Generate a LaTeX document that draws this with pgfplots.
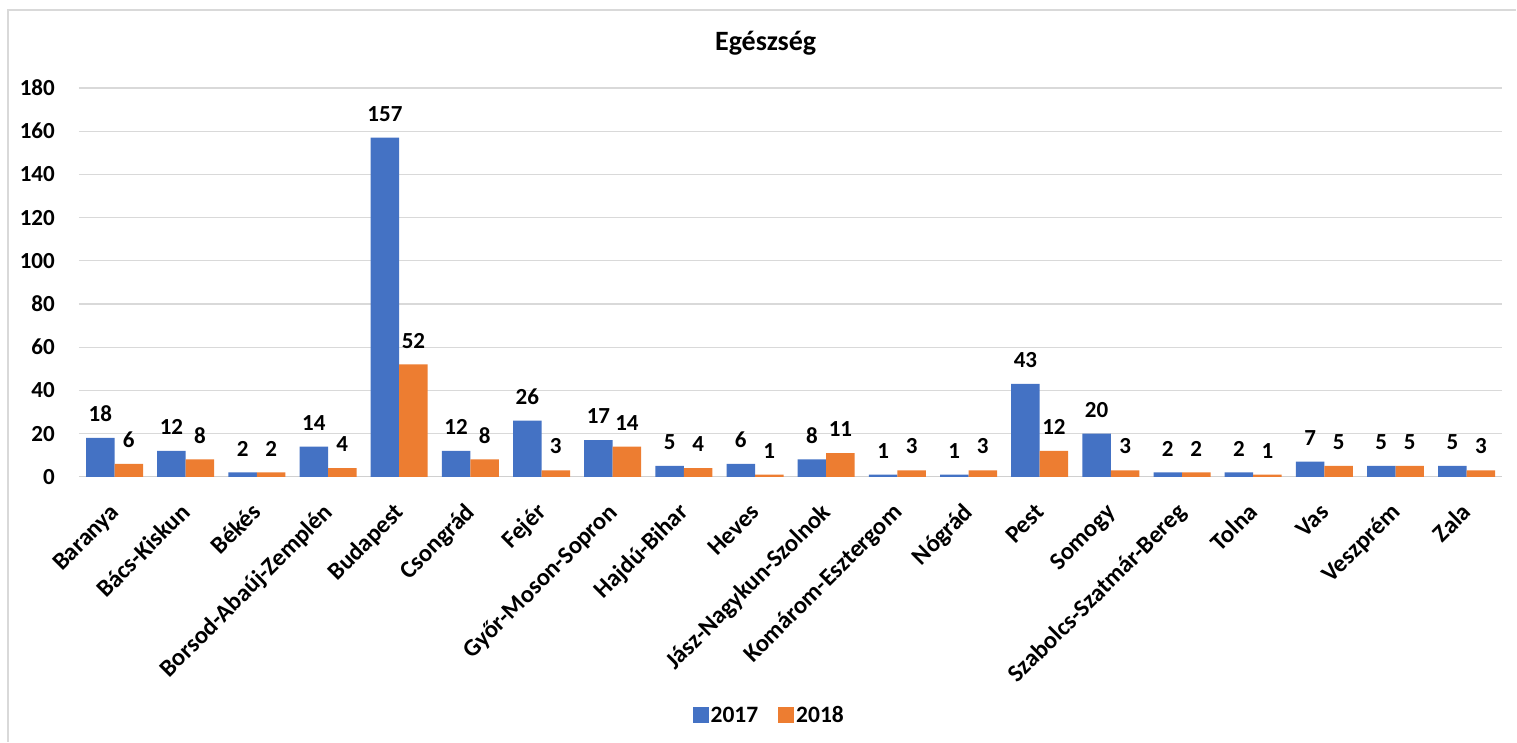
\documentclass[border=0pt]{standalone}
\usepackage{fontspec}
\setmainfont{Carlito}
\usepackage{pgfplots}
\pgfplotsset{compat=1.18}
\definecolor{cblue}{HTML}{4472C4}
\definecolor{corange}{HTML}{ED7D31}
\definecolor{gridgray}{HTML}{D9D9D9}
\definecolor{axisgray}{HTML}{D0D0D0}
\definecolor{bordergray}{HTML}{D9D9D9}
\newcommand{\lblfont}{\fontsize{23bp}{27bp}\selectfont\bfseries}
\newcommand{\xlblfont}{\fontsize{24.5bp}{28bp}\selectfont\bfseries}
\begin{document}
\begin{tikzpicture}
\path (0bp,0bp) rectangle (1517bp,742bp);
\draw[color=bordergray, line width=1.5bp] (8bp,0bp) -- (8bp,732bp) -- (1517bp,732bp);
\node[font=\fontsize{28bp}{32bp}\selectfont\bfseries, anchor=base] at (766bp,691bp) {Egészség};
\begin{axis}[
  at={(79bp,265bp)}, anchor=south west,
  scale only axis, width=1424bp, height=389bp,
  ybar=0pt, bar width=28.5bp,
  xmin=-0.5, xmax=19.5, ymin=0, ymax=180,
  xtick={0,...,19},
  xticklabels={Baranya,Bács-Kiskun,Békés,Borsod-Abaúj-Zemplén,Budapest,Csongrád,Fejér,Győr-Moson-Sopron,Hajdú-Bihar,Heves,Jász-Nagykun-Szolnok,Komárom-Esztergom,Nógrád,Pest,Somogy,Szabolcs-Szatmár-Bereg,Tolna,Vas,Veszprém,Zala},
  ytick={0,20,...,180},
  ymajorgrids, grid style={draw=gridgray, line width=1.3bp},
  axis x line*=bottom, axis y line*=left,
  x axis line style={draw=axisgray, line width=1.3bp, -},
  y axis line style={draw=none},
  major tick length=0pt,
  /pgf/number format/assume math mode=true,
  tick label style={font=\lblfont},
  yticklabel style={anchor=east, inner sep=0pt, xshift=-24bp},
  xticklabel style={font=\xlblfont, xshift=2bp, yshift=-33bp, rotate=45, anchor=east, inner sep=0pt, text height=16bp, text depth=5bp},
  nodes near coords,
  every node near coord/.append style={font=\lblfont, anchor=south, inner sep=0pt, yshift=16bp},
  legend columns=2,
  legend style={draw=none, at={(axis description cs:0.485,-0.614)}, anchor=center, font=\fontsize{23.5bp}{27bp}\selectfont\bfseries,
    /tikz/every even column/.append style={column sep=18bp}},
  legend image code/.code={\fill[#1] (0bp,-8bp) rectangle (16bp,8bp);},
]
\addplot[fill=cblue, draw=none] coordinates {(0,18) (1,12) (2,2) (3,14) (4,157) (5,12) (6,26) (7,17) (8,5) (9,6) (10,8) (11,1) (12,1) (13,43) (14,20) (15,2) (16,2) (17,7) (18,5) (19,5)};
\addplot[fill=corange, draw=none] coordinates {(0,6) (1,8) (2,2) (3,4) (4,52) (5,8) (6,3) (7,14) (8,4) (9,1) (10,11) (11,3) (12,3) (13,12) (14,3) (15,2) (16,1) (17,5) (18,5) (19,3)};
\legend{2017,2018}
\end{axis}
\end{tikzpicture}
\end{document}
